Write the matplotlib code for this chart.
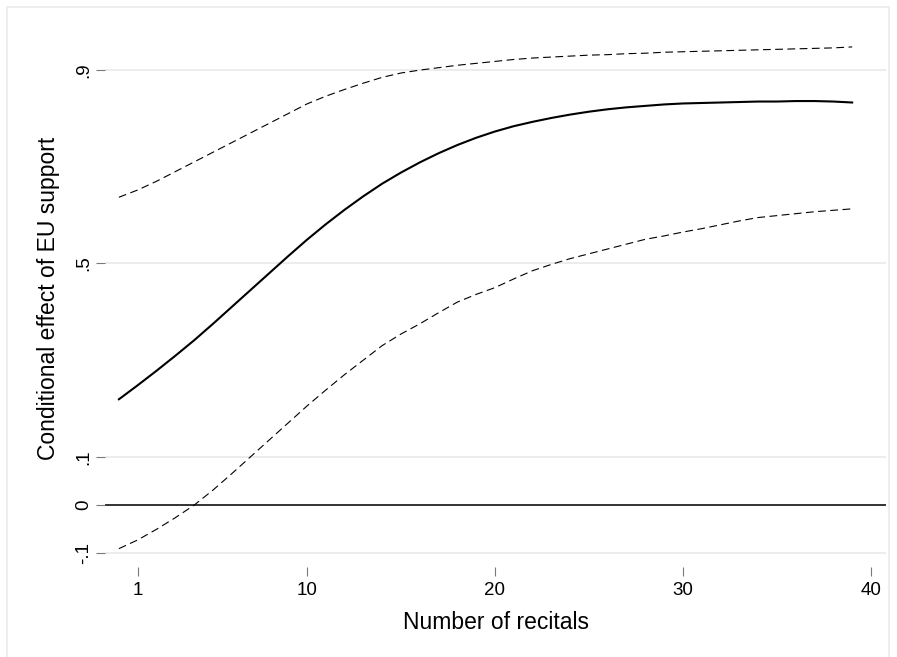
import matplotlib.pyplot as plt
from matplotlib.patches import Rectangle

plt.rcParams['font.family'] = ['Liberation Sans', 'DejaVu Sans']

# number of recitals
recitals = list(range(0, 40))
# conditional effect and 95% bounds
effect = [0.219, 0.248, 0.278, 0.309, 0.341, 0.375, 0.41, 0.445, 0.48, 0.515,
          0.549, 0.581, 0.611, 0.639, 0.665, 0.688, 0.709, 0.728, 0.745, 0.76,
          0.773, 0.784, 0.793, 0.801, 0.808, 0.814, 0.819, 0.823, 0.826, 0.829,
          0.831, 0.832, 0.833, 0.834, 0.835, 0.835, 0.836, 0.836, 0.835, 0.833]
upper = [0.637, 0.652, 0.67, 0.69, 0.71, 0.73, 0.75, 0.77, 0.79, 0.81,
         0.83, 0.846, 0.86, 0.873, 0.885, 0.894, 0.90, 0.905, 0.91, 0.914,
         0.918, 0.922, 0.925, 0.927, 0.929, 0.931, 0.932, 0.934, 0.935, 0.937,
         0.938, 0.939, 0.940, 0.941, 0.942, 0.943, 0.944, 0.945, 0.946, 0.948]
lower = [-0.09, -0.072, -0.05, -0.026, 0.0, 0.031, 0.065, 0.1, 0.135, 0.17,
         0.205, 0.238, 0.27, 0.3, 0.33, 0.354, 0.375, 0.398, 0.42, 0.436,
         0.45, 0.468, 0.485, 0.498, 0.51, 0.52, 0.53, 0.54, 0.55, 0.557,
         0.565, 0.572, 0.58, 0.588, 0.595, 0.599, 0.603, 0.607, 0.61, 0.613]

xticks = [1, 10, 20, 30, 40]
yticks = [-0.1, 0, 0.1, 0.5, 0.9]
ylabels = ['-.1', '0', '.1', '.5', '.9']

fig = plt.figure(figsize=(8.97, 6.57), dpi=100)
ax = fig.add_axes([105 / 897, 1 - 567 / 657, 781 / 897, 537 / 657])

# light frame round the graph region
fig.patches.append(Rectangle((7 / 897, -0.01), 882 / 897, 1 - 7 / 657 + 0.01,
                             transform=fig.transFigure, fill=False,
                             edgecolor='#ebebeb', lw=1.2))

for t in yticks:
    if t != 0:
        ax.axhline(t, color='#eaeaea', lw=1.3, zorder=0)
ax.axhline(0, color='#333333', lw=1.4, zorder=1)

ax.plot(recitals, upper, color='black', lw=0.8, dashes=(7, 4))
ax.plot(recitals, lower, color='black', lw=0.8, dashes=(7, 4))
ax.plot(recitals, effect, color='black', lw=1.5)

ax.set_xlim(-0.74, 40.8)
ax.set_ylim(-0.128, 0.983)
ax.set_xticks(xticks)
ax.set_yticks(yticks)
ax.set_yticklabels(ylabels, rotation=90, va='center')
for s in ax.spines.values():
    s.set_visible(False)
ax.tick_params(axis='both', direction='out', length=6.5, width=0.8, color='#7a7a7a',
               labelsize=13.5, pad=3)
ax.tick_params(axis='x', pad=4)

ax.set_xlabel('Number of recitals', fontsize=16.5, labelpad=9)
ax.set_ylabel('Conditional effect of EU support', fontsize=16.5, labelpad=11)

fig.savefig('out.png', dpi=100)
